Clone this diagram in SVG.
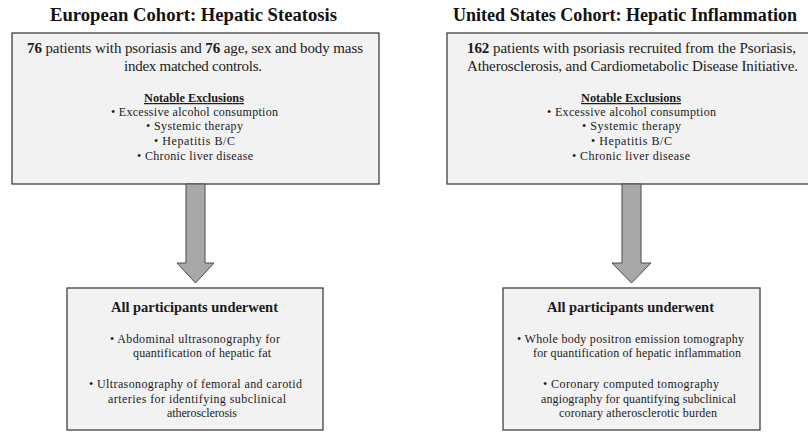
<svg xmlns="http://www.w3.org/2000/svg" width="808" height="432" viewBox="0 0 808 432">
<style>
.box{fill:#f2f2f2;stroke:#3f3f3f;stroke-width:1.3}
.arrow{fill:#a9a7a7;stroke:#4a4a4a;stroke-width:1}
text{font-family:"Liberation Serif","Times New Roman",serif;fill:#1a1a1a;text-anchor:start}
.title{font-size:18.5px;font-weight:bold;fill:#111}
.main{font-size:15px}
.b{font-weight:bold}
.sub{font-size:12.3px;font-weight:bold;text-decoration:underline}
.li{font-size:12px}
.head{font-size:14.5px;font-weight:bold}
</style>
<rect width="808" height="432" fill="#ffffff"/>
<g id="title-left"><text class="title" x="50" y="21" textLength="287" lengthAdjust="spacingAndGlyphs">European Cohort: Hepatic Steatosis</text></g>
<g id="title-right"><text class="title" x="453" y="21" textLength="344" lengthAdjust="spacingAndGlyphs">United States Cohort: Hepatic Inflammation</text></g>
<g id="cohort-eu">
<rect class="box" x="12" y="33" width="367" height="151"/>
<text class="main" x="27" y="53" textLength="336"><tspan class="b">76</tspan> patients with psoriasis and <tspan class="b">76</tspan> age, sex and body mass</text>
<text class="main" x="124" y="71" textLength="138">index matched controls.</text>
<text class="sub" x="144" y="102" textLength="100">Notable Exclusions</text>
<text class="li" x="111" y="116" textLength="167">•  Excessive alcohol consumption</text>
<text class="li" x="146" y="130" textLength="97">•  Systemic therapy</text>
<text class="li" x="154" y="145" textLength="81">•  Hepatitis B/C</text>
<text class="li" x="137" y="160" textLength="116">•  Chronic liver disease</text>
</g>
<g id="cohort-us">
<rect class="box" x="447" y="33" width="370" height="151"/>
<text class="main" x="467" y="53" textLength="329"><tspan class="b">162</tspan> patients with psoriasis recruited from the Psoriasis,</text>
<text class="main" x="467" y="71" textLength="331">Atherosclerosis, and Cardiometabolic Disease Initiative.</text>
<text class="sub" x="581" y="102" textLength="100">Notable Exclusions</text>
<text class="li" x="547" y="116" textLength="169">•  Excessive alcohol consumption</text>
<text class="li" x="582" y="130" textLength="99">•  Systemic therapy</text>
<text class="li" x="591" y="145" textLength="81">•  Hepatitis B/C</text>
<text class="li" x="572" y="160" textLength="118">•  Chronic liver disease</text>
</g>
<g id="connectors">
<path class="arrow" d="M186 184 H205 V263 H214 L195.5 283 L177 263 H186 Z"/>
<path class="arrow" d="M622 184 H641 V263 H651 L631.5 283 L612 263 H622 Z"/>
</g>
<g id="procedures-eu">
<rect class="box" x="67" y="288" width="256" height="142"/>
<text class="head" x="111" y="312" textLength="167">All participants underwent</text>
<text class="li" x="110" y="343" textLength="170">•  Abdominal ultrasonography for</text>
<text class="li" x="133" y="357" textLength="138">quantification of hepatic fat</text>
<text class="li" x="89" y="388" textLength="213">•   Ultrasonography of femoral and carotid</text>
<text class="li" x="108" y="403" textLength="178">arteries for identifying subclinical</text>
<text class="li" x="167" y="417" textLength="70">atherosclerosis</text>
</g>
<g id="procedures-us">
<rect class="box" x="503" y="288" width="257" height="142"/>
<text class="head" x="547" y="312" textLength="167">All participants underwent</text>
<text class="li" x="517" y="343" textLength="227">•  Whole body positron emission tomography</text>
<text class="li" x="533" y="357" textLength="208">for quantification of hepatic inflammation</text>
<text class="li" x="543" y="388" textLength="176">•   Coronary computed tomography</text>
<text class="li" x="541" y="403" textLength="195">angiography for quantifying subclinical</text>
<text class="li" x="559" y="417" textLength="158">coronary atherosclerotic burden</text>
</g>
</svg>
